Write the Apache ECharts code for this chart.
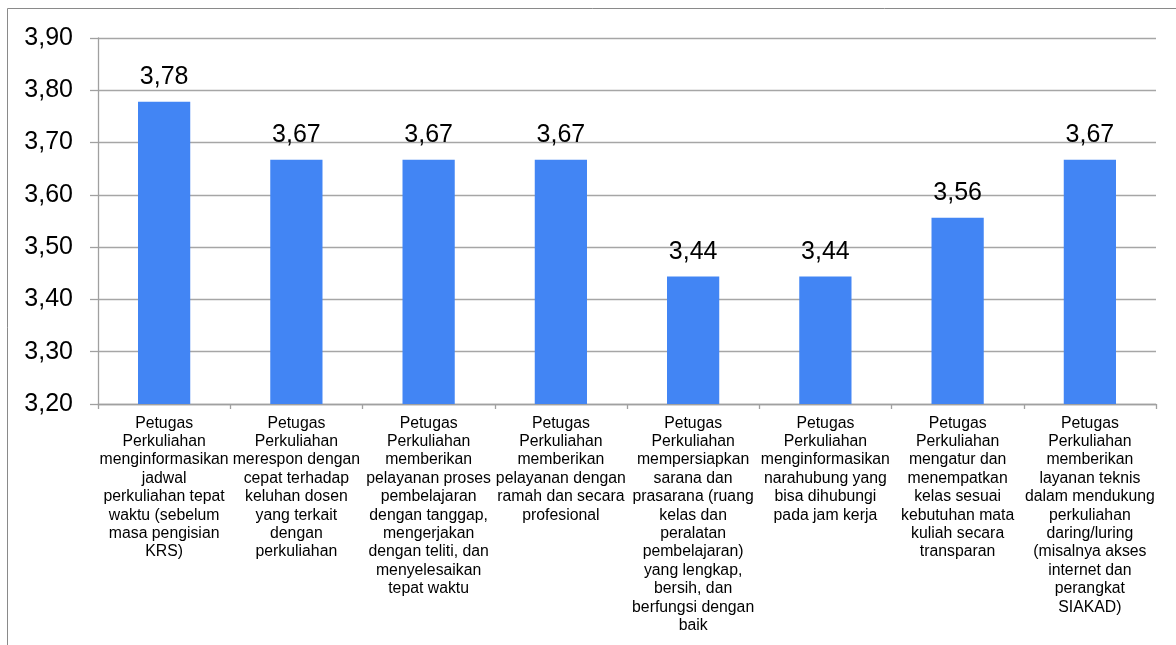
<!DOCTYPE html>
<html>
<head>
<meta charset="utf-8">
<script src="https://cdn.jsdelivr.net/npm/echarts@6/dist/echarts.min.js"></script>
<style>
html,body{margin:0;padding:0;background:#fff;}
#chart{width:1176px;height:645px;}
</style>
</head>
<body>
<div id="chart"></div>
<script>
var categories = [
  "Petugas\nPerkuliahan\nmenginformasikan\njadwal\nperkuliahan tepat\nwaktu (sebelum\nmasa pengisian\nKRS)",
  "Petugas\nPerkuliahan\nmerespon dengan\ncepat terhadap\nkeluhan dosen\nyang terkait\ndengan\nperkuliahan",
  "Petugas\nPerkuliahan\nmemberikan\npelayanan proses\npembelajaran\ndengan tanggap,\nmengerjakan\ndengan teliti, dan\nmenyelesaikan\ntepat waktu",
  "Petugas\nPerkuliahan\nmemberikan\npelayanan dengan\nramah dan secara\nprofesional",
  "Petugas\nPerkuliahan\nmempersiapkan\nsarana dan\nprasarana (ruang\nkelas dan\nperalatan\npembelajaran)\nyang lengkap,\nbersih, dan\nberfungsi dengan\nbaik",
  "Petugas\nPerkuliahan\nmenginformasikan\nnarahubung yang\nbisa dihubungi\npada jam kerja",
  "Petugas\nPerkuliahan\nmengatur dan\nmenempatkan\nkelas sesuai\nkebutuhan mata\nkuliah secara\ntransparan",
  "Petugas\nPerkuliahan\nmemberikan\nlayanan teknis\ndalam mendukung\nperkuliahan\ndaring/luring\n(misalnya akses\ninternet dan\nperangkat\nSIAKAD)"
];
var values = [3.778, 3.667, 3.667, 3.667, 3.444, 3.444, 3.556, 3.667];
var yMin = 3.2, yMax = 3.9, yStep = 0.1;

function fmt(v){ return Number(v).toFixed(2).replace('.', ','); }

var chart = echarts.init(document.getElementById('chart'));
chart.setOption({
  animation: false,
  backgroundColor: '#fff',
  textStyle: { fontFamily: 'Liberation Sans, Arial, sans-serif' },
  graphic: [{
    type: 'rect',
    shape: { x: 7.5, y: 8.5, width: 1300, height: 800 },
    style: { fill: 'none', stroke: '#8a8a8a', lineWidth: 1 },
    silent: true
  }],
  grid: { left: 98, right: 20, top: 38, bottom: 241, containLabel: false },
  xAxis: {
    type: 'category',
    data: categories,
    axisLine: { lineStyle: { color: '#a0a0a0', width: 1.3 } },
    axisTick: { show: true, length: 5, lineStyle: { color: '#a0a0a0', width: 1.3 } },
    axisLabel: {
      interval: 0,
      margin: 10,
      color: '#000',
      fontSize: 15.8,
      lineHeight: 18.4,
      fontFamily: 'Liberation Sans, Arial, sans-serif',
      align: 'center'
    }
  },
  yAxis: {
    type: 'value',
    min: yMin,
    max: yMax,
    interval: yStep,
    axisLine: { show: true, lineStyle: { color: '#a0a0a0', width: 1.3 } },
    axisTick: { show: true, length: 8, lineStyle: { color: '#a0a0a0', width: 1.3 } },
    splitLine: { show: true, lineStyle: { color: '#a6a6a6', width: 1.3 } },
    axisLabel: {
      margin: 25,
      color: '#000',
      fontSize: 25,
      fontFamily: 'Liberation Sans, Arial, sans-serif',
      formatter: function(v){ return fmt(v); }
    }
  },
  series: [{
    type: 'bar',
    data: values,
    barWidth: '39.5%',
    itemStyle: { color: '#4285f4' },
    label: {
      show: true,
      position: 'top',
      distance: 12,
      color: '#000',
      fontSize: 25,
      fontFamily: 'Liberation Sans, Arial, sans-serif',
      formatter: function(p){ return fmt(p.value); }
    }
  }]
});
</script>
</body>
</html>
